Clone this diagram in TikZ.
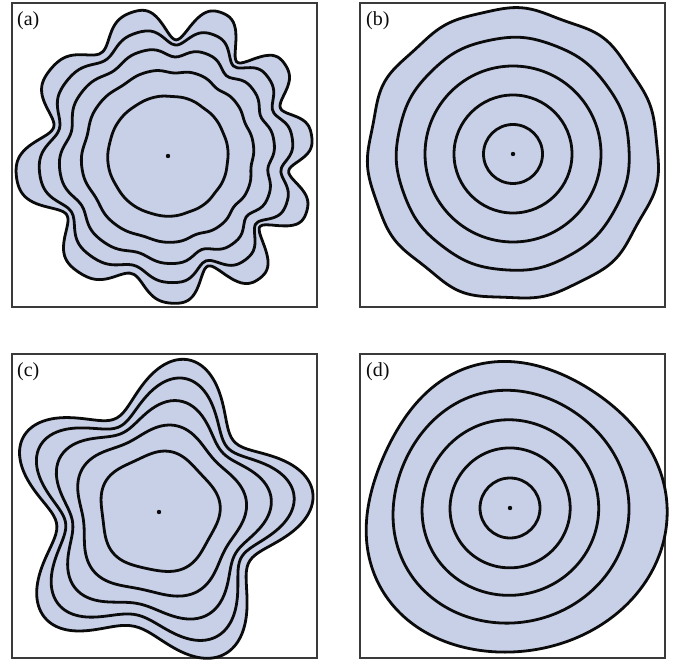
\documentclass[tikz,border=0pt]{standalone}
\usepackage{fontspec}
\setmainfont{Liberation Serif}
\usetikzlibrary{positioning}
\definecolor{ringInk}{HTML}{0B0B0B}
\definecolor{ringFill}{HTML}{C8D0E8}
\definecolor{frameInk}{HTML}{3A3A3A}
\tikzset{
  every picture/.style={font=\fontsize{20}{22}\selectfont, text=ringInk},
  panel frame/.style={draw=frameInk, line width=1.3pt, fill=white},
  panel label/.style={anchor=north west, inner sep=0pt},
  ring line/.style={draw=ringInk, line width=2.8pt, line join=round},
  ring outer/.style={ring line, fill=ringFill},
  ring plot/.style={smooth cycle, domain=0:358, samples=180},
  core dot/.style={fill=ringInk}
}

\begin{document}
\begin{tikzpicture}[x=1pt,y=1pt]
  \useasboundingbox (0,0) rectangle (676,662);
  % panel frames
  \draw[panel frame] (12,355) rectangle (317,659);
  \draw[panel frame] (360,355) rectangle (665,659);
  \draw[panel frame] (12,4) rectangle (317,308);
  \draw[panel frame] (360,4) rectangle (665,308);
  \coordinate (ca) at (168,506);
  \coordinate (cb) at (513,508);
  \coordinate (cc) at (159,150);
  \coordinate (cd) at (510,154);

  % (a) ten uneven lobes, growing outwards
  \begin{scope}[shift={(ca)}]
    \foreach \R/\s/\st in {134/1/ring outer, 120/0.5/ring line, 104/0.27/ring line,
                           85/0.1/ring line, 60/0.02/ring line}
      \draw[\st] plot[ring plot]
        (\x:{\R+\s*(15+4*cos(3*(\x-70)))*(cos(10*(\x-8+12*sin(\x-8)))
             -0.2*cos(20*(\x-8+12*sin(\x-8)))+0.2)});
    \fill[core dot] (0,0) circle[radius=2.2];
  \end{scope}

  % (b) nearly round
  \begin{scope}[shift={(cb)}]
    \draw[ring outer] plot[ring plot] (\x:{145+1.4*cos(11*(\x-20))+0.9*cos(7*\x+30)});
    \draw[ring line] plot[ring plot] (\x:{116.5+0.4*cos(11*(\x-20))});
    \foreach \R in {29.5, 59, 88}
      \draw[ring line] (0,0) circle[radius=\R];
    \fill[core dot] (0,0) circle[radius=2.2];
  \end{scope}

  % (c) five lobes
  \begin{scope}[shift={(cc)}]
    \foreach \R/\A/\st in {129/26/ring outer, 115/21/ring line, 100/13/ring line,
                           82/6/ring line, 59/2.5/ring line}
      \draw[\st] plot[ring plot]
        (\x:{\R+\A*cos(5*(\x-7))+0.55*\A*exp(-((\x-262)/22)^2)});
    \fill[core dot] (0,0) circle[radius=2.2];
  \end{scope}

  % (d) low modes, weak
  \begin{scope}[shift={(cd)}]
    \draw[ring outer] plot[ring plot]
      (\x:{147+5*cos(\x+30)+2.8*cos(2*\x-39)+4.9*cos(3*\x+49)+1.3*cos(4*\x-72)});
    \foreach \R/\s in {117/0.35, 88/0.12, 60/0.03}
      \draw[ring line] plot[ring plot]
        (\x:{\R+\s*(2.8*cos(2*\x-39)+4.9*cos(3*\x+49)+1.3*cos(4*\x-72))});
    \draw[ring line] (0,0) circle[radius=30];
    \fill[core dot] (0,0) circle[radius=2.2];
  \end{scope}

  \node[panel label] (la) at (17,651) {(a)};
  \node[panel label] (lb) at (366,651) {(b)};
  \node[panel label] (lc) at (17,300) {(c)};
  \node[panel label] (ld) at (366,300) {(d)};
\end{tikzpicture}
\end{document}
